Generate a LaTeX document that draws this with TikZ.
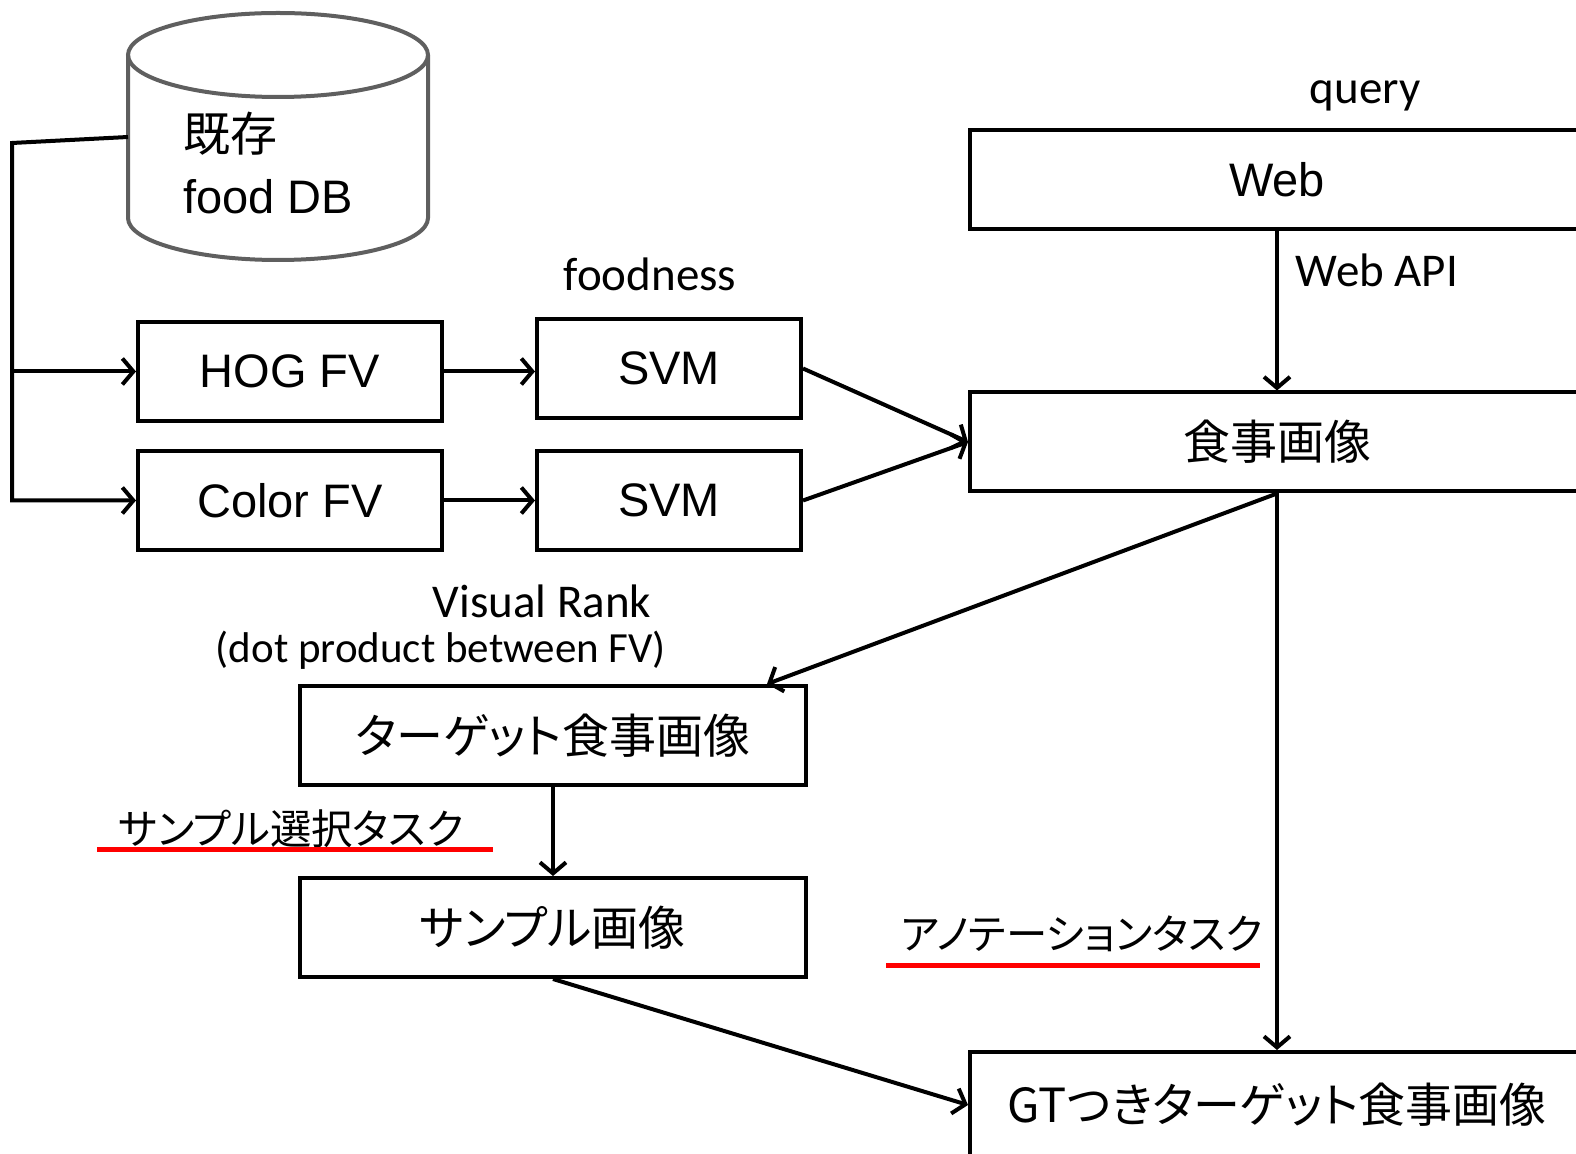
\documentclass[tikz,border=0pt]{standalone}
\usepackage{fontspec}
\setmainfont{Liberation Sans}
\newfontfamily\jpfont{Noto Sans CJK JP}[RawFeature=+palt]
\newfontfamily\calfont{Carlito}
\usepackage{tikz}
\usetikzlibrary{arrows.meta, positioning}
\definecolor{DBGray}{RGB}{95,95,95}
\tikzstyle{box} = [rectangle, draw=black, line width=2pt, fill=white, inner sep=0pt, minimum height=49.5pt, text centered, font=\fontsize{23.5}{28}\selectfont]
\tikzstyle{lbl} = [inner sep=0pt, font=\calfont\fontsize{23.5}{28}\selectfont]
\tikzstyle{tasklbl} = [inner sep=0pt, font=\jpfont\fontsize{20.7}{24}\selectfont]
\tikzstyle{dbline} = [draw=DBGray, line width=2pt]
\tikzstyle{arrow} = [line width=2pt, -{Straight Barb[length=5.5pt,width=13pt,line width=2pt]}]
\tikzstyle{underline} = [draw=red, line width=2.5pt]

\begin{document}
\begin{tikzpicture}[x=0.5pt, y=-0.5pt]
  \useasboundingbox (0,0) rectangle (1576,1154);
  \clip (0,0) rectangle (1576,1154);

  % existing database
  \draw [dbline] (128,55) -- (128,218) arc[start angle=180, end angle=360, x radius=75pt, y radius=21pt] -- (428,55);
  \draw [dbline] (278,55) ellipse [x radius=75pt, y radius=21pt];
  \node (fooddb) [anchor=west, align=left, inner sep=0pt, font=\fontsize{23.5}{28}\selectfont] at (183,163) {{\jpfont 既存}\\[3pt]food DB};
  \coordinate (dbleft) at (128,137);
  \coordinate (dbcorner) at (12,143);

  \node (hogfv) [box, minimum width=152pt] at (290,371.5) {HOG FV};
  \node (colorfv) [box, minimum width=152pt] at (290,500.5) {Color FV};
  \node (svmhog) [box, minimum width=132pt] at (669,368.5) {SVM};
  \node (svmcolor) [box, minimum width=132pt] at (669,500.5) {SVM};
  \node (foodness) [lbl] at (650,274) {foodness};

  \node (web) [box, minimum width=307pt] at (1277,179.5) {Web};
  \node (query) [lbl] at (1365,96) {query};
  \node (meal) [box, minimum width=307pt] at (1277,442) {\jpfont 食事画像};
  \node (webapi) [lbl] at (1377,270) {Web API};

  \node (vrank) [lbl] at (542,601) {Visual Rank};
  \node (vrankdot) [lbl, font=\calfont\fontsize{21.5}{26}\selectfont] at (441,650) {(dot product between FV)};
  \node (target) [box, minimum width=253pt] at (553,735.5) {\jpfont ターゲット食事画像};
  \node (sellabel) [tasklbl] at (291,829) {サンプル選択タスク};
  \node (sample) [box, minimum width=253pt] at (553,927.5) {\jpfont サンプル画像};
  \node (annlabel) [tasklbl] at (1082,934) {アノテーションタスク};
  \node (gt) [box, minimum width=307pt, minimum height=53pt] at (1277,1105) {\jpfont GTつきターゲット食事画像};

  \draw [underline] (97,850) -- (493,850);
  \draw [underline] (886,966) -- (1260,966);

  \draw [arrow] (dbleft) -- (dbcorner) -- (dbcorner |- colorfv) -- (colorfv);
  \draw [arrow] (dbcorner |- hogfv) -- (hogfv);
  \draw [arrow] (hogfv.east) -- (hogfv.east -| svmhog.west);
  \draw [arrow] (colorfv) -- (svmcolor);
  \draw [arrow] (svmhog.east) -- (meal.west);
  \draw [arrow] (svmcolor.east) -- (meal.west);
  \draw [arrow] (web) -- (meal);
  \draw [arrow] (meal.south) -- ([xshift=-20.5pt]target.north east);
  \draw [arrow] (meal) -- (gt);
  \draw [arrow] (target) -- (sample);
  \draw [arrow] (sample.south) -- (gt.west);

\end{tikzpicture}
\end{document}
